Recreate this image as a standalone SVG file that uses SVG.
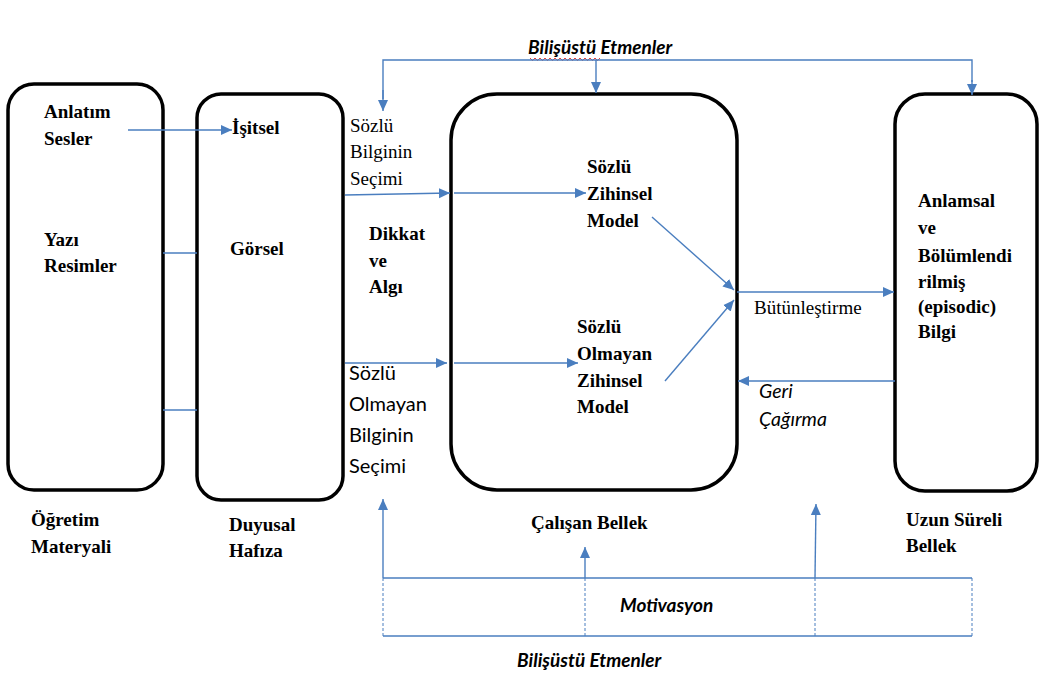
<svg xmlns="http://www.w3.org/2000/svg" width="1040" height="674" viewBox="0 0 1040 674">
  <style>
    .box { fill: #ffffff; stroke: #000000; stroke-width: 3.5; }
    .lnk { fill: none; stroke: #4a7ebf; stroke-width: 1.4; }
    .arr { fill: none; stroke: #4a7ebf; stroke-width: 1.4; marker-end: url(#tip); }
    .dash { fill: none; stroke: #4a7ebf; stroke-width: 1; stroke-dasharray: 3 2; }
    .sb { font-family: "Liberation Serif", "Times New Roman", serif; font-weight: bold; font-size: 19px; fill: #000; }
    .sr { font-family: "Liberation Serif", "Times New Roman", serif; font-size: 19px; fill: #000; }
    .ss { font-family: Lato, "Liberation Sans", sans-serif; font-size: 20px; fill: #000; }
    .si { font-family: Lato, "Liberation Sans", sans-serif; font-style: italic; font-size: 19.5px; fill: #000; }
    .sbi { font-family: Lato, "Liberation Sans", sans-serif; font-style: italic; font-weight: bold; font-size: 19px; fill: #000; }
  </style>
  <defs>
    <marker id="tip" markerUnits="userSpaceOnUse" markerWidth="12" markerHeight="12" refX="11" refY="6" orient="auto">
      <path d="M0,1 L11,6 L0,11 Z" fill="#4a7ebf"/>
    </marker>
  </defs>

  <rect width="1040" height="674" fill="#ffffff"/>

  <!-- Instructional material -->
  <g id="ogretim-materyali">
    <rect class="box" x="8" y="84" width="155" height="406" rx="26"/>
    <text class="sb" x="44" y="118">Anlatım</text>
    <text class="sb" x="44" y="145">Sesler</text>
    <text class="sb" x="44" y="246">Yazı</text>
    <text class="sb" x="44" y="272">Resimler</text>
    <text class="sb" x="31" y="526">Öğretim</text>
    <text class="sb" x="31" y="553">Materyali</text>
  </g>

  <!-- Sensory memory -->
  <g id="duyusal-hafiza">
    <rect class="box" x="197" y="94" width="146" height="406" rx="24"/>
    <text class="sb" x="232" y="134">İşitsel</text>
    <text class="sb" x="230" y="255">Görsel</text>
    <text class="sb" x="229" y="531">Duyusal</text>
    <text class="sb" x="229" y="557">Hafıza</text>
  </g>

  <!-- Selection / attention labels -->
  <g id="secim">
    <text class="sr" x="350" y="132">Sözlü</text>
    <text class="sr" x="350" y="158">Bilginin</text>
    <text class="sr" x="350" y="185">Seçimi</text>
    <text class="sb" x="369" y="240">Dikkat</text>
    <text class="sb" x="369" y="267">ve</text>
    <text class="sb" x="369" y="293">Algı</text>
    <text class="ss" x="349" y="380">Sözlü</text>
    <text class="ss" x="349" y="411">Olmayan</text>
    <text class="ss" x="349" y="442">Bilginin</text>
    <text class="ss" x="349" y="473">Seçimi</text>
  </g>

  <!-- Working memory -->
  <g id="calisan-bellek">
    <rect class="box" x="451" y="94" width="286" height="396" rx="46"/>
    <text class="sb" x="587" y="173">Sözlü</text>
    <text class="sb" x="587" y="200">Zihinsel</text>
    <text class="sb" x="587" y="227">Model</text>
    <text class="sb" x="577" y="333">Sözlü</text>
    <text class="sb" x="577" y="360">Olmayan</text>
    <text class="sb" x="577" y="387">Zihinsel</text>
    <text class="sb" x="577" y="413">Model</text>
    <text class="sb" x="531" y="529">Çalışan Bellek</text>
  </g>

  <!-- Long-term memory -->
  <g id="uzun-sureli-bellek">
    <rect class="box" x="895" y="94" width="142" height="397" rx="30"/>
    <text class="sb" x="918" y="207">Anlamsal</text>
    <text class="sb" x="918" y="234">ve</text>
    <text class="sb" x="918" y="262">Bölümlendi</text>
    <text class="sb" x="918" y="288">rilmiş</text>
    <text class="sb" x="918" y="313">(episodic)</text>
    <text class="sb" x="918" y="338">Bilgi</text>
    <text class="sb" x="906" y="526">Uzun Süreli</text>
    <text class="sb" x="906" y="552">Bellek</text>
  </g>

  <!-- Process labels -->
  <g id="surec-etiketleri">
    <text class="sr" x="754" y="314" font-size="20">Bütünleştirme</text>
    <text class="si" x="759" y="398">Geri</text>
    <text class="si" x="759" y="426">Çağırma</text>
    <text class="sbi" x="528" y="54">Bilişüstü Etmenler</text>
    <path d="M530,58 l2.5,2.5 l2.5,-2.5 l2.5,2.5 l2.5,-2.5 l2.5,2.5 l2.5,-2.5 l2.5,2.5 l2.5,-2.5 l2.5,2.5 l2.5,-2.5 l2.5,2.5 l2.5,-2.5 l2.5,2.5 l2.5,-2.5 l2.5,2.5 l2.5,-2.5 l2.5,2.5 l2.5,-2.5 l2.5,2.5 l2.5,-2.5 l2.5,2.5 l2.5,-2.5 l2.5,2.5 l2.5,-2.5 l2.5,2.5 l2.5,-2.5 l2.5,2.5 l2.5,-2.5" fill="none" stroke="#e0302a" stroke-width="0.9"/>
    <text class="sbi" x="620" y="612">Motivasyon</text>
    <text class="sbi" x="517" y="667">Bilişüstü Etmenler</text>
  </g>

  <!-- Connectors -->
  <g id="connectors">
    <!-- material to sensory memory -->
    <line class="arr" x1="128" y1="130" x2="232" y2="130"/>
    <line class="lnk" x1="163" y1="253" x2="197" y2="253"/>
    <line class="lnk" x1="163" y1="410" x2="197" y2="410"/>

    <!-- selection into working memory -->
    <line class="arr" x1="345" y1="195" x2="450" y2="193"/>
    <line class="arr" x1="454" y1="193" x2="586" y2="193"/>
    <line class="arr" x1="345" y1="363" x2="447" y2="363"/>
    <line class="arr" x1="454" y1="363" x2="578" y2="363"/>

    <!-- integration -->
    <line class="arr" x1="652" y1="217" x2="734" y2="290"/>
    <line class="arr" x1="665" y1="381" x2="734" y2="300"/>
    <line class="arr" x1="737" y1="292" x2="894" y2="292"/>
    <line class="arr" x1="895" y1="381" x2="738" y2="381"/>

    <!-- metacognitive factors, top -->
    <path class="lnk" d="M383,99 V60 H972 V82"/>
    <line class="arr" x1="383" y1="90" x2="383" y2="111"/>
    <line class="arr" x1="596" y1="60" x2="596" y2="93"/>
    <line class="arr" x1="972" y1="80" x2="972" y2="95"/>

    <!-- motivation band, bottom -->
    <line class="lnk" x1="383" y1="578" x2="972" y2="578"/>
    <line class="lnk" x1="383" y1="636" x2="972" y2="636"/>
    <line class="dash" x1="383" y1="578" x2="383" y2="636"/>
    <line class="dash" x1="972" y1="578" x2="972" y2="636"/>
    <line class="dash" x1="585" y1="578" x2="585" y2="636"/>
    <line class="dash" x1="815" y1="578" x2="815" y2="636"/>
    <line class="arr" x1="383" y1="578" x2="383" y2="499"/>
    <line class="arr" x1="585" y1="578" x2="585" y2="547"/>
    <line class="arr" x1="815" y1="578" x2="816" y2="504"/>
  </g>
</svg>
